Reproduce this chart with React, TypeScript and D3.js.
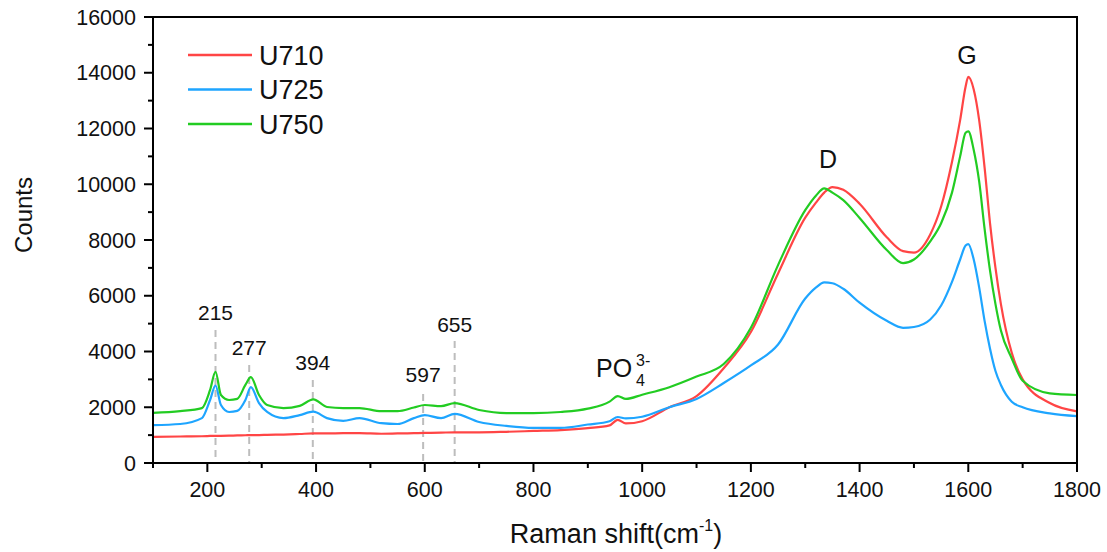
import React from "react";
import * as d3 from "d3";

const shift = [100,150,190,205,215,225,240,255,270,280,295,310,340,370,395,420,450,480,520,550,580,600,630,655,700,750,800,850,900,940,955,970,1000,1050,1100,1150,1200,1250,1300,1320,1335,1350,1370,1400,1450,1480,1500,1530,1550,1570,1585,1595,1600,1610,1620,1630,1640,1650,1660,1680,1700,1750,1800];

const u710 = [940,950,960,970,975,975,980,990,995,1000,1000,1010,1020,1040,1060,1060,1070,1070,1050,1060,1070,1080,1090,1100,1100,1120,1150,1180,1250,1350,1550,1420,1500,2000,2400,3400,4700,6800,8800,9350,9700,9900,9800,9300,8100,7600,7550,8200,9200,10800,12300,13500,13850,13400,12300,10600,8600,7000,5700,3950,3000,2150,1850];

const u725 = [1360,1400,1610,2260,2780,2080,1830,1870,2260,2720,2150,1830,1610,1720,1840,1610,1510,1610,1430,1400,1610,1720,1610,1760,1470,1330,1260,1260,1380,1500,1650,1600,1660,2000,2300,2870,3500,4250,5900,6300,6480,6450,6250,5750,5100,4850,4880,5150,5650,6500,7300,7800,7850,7300,6300,5100,4100,3300,2800,2200,2000,1780,1680];

const u750 = [1800,1860,1970,2620,3270,2440,2260,2300,2800,3080,2440,2080,1970,2050,2280,2010,1970,1970,1860,1860,1990,2080,2040,2150,1900,1790,1790,1830,1950,2200,2400,2300,2450,2720,3100,3550,4850,7100,9070,9600,9850,9700,9430,8790,7640,7170,7300,7950,8600,9700,11000,11850,11900,11230,10100,8400,6900,5700,4750,3750,2950,2500,2440];

const series = [
  { name: "U710", values: u710, color: "#ff4545" },
  { name: "U725", values: u725, color: "#1ea5ff" },
  { name: "U750", values: u750, color: "#22cc22" },
];

const xMajor = [200,400,600,800,1000,1200,1400,1600,1800];
const xMinor = [100,300,500,700,900,1100,1300,1500,1700];
const yMajor = [0,2000,4000,6000,8000,10000,12000,14000,16000];
const yMinor = [1000,3000,5000,7000,9000,11000,13000,15000];

const peakMarks = [
  { label: "215", x: 215, labelY: 320, top: 330 },
  { label: "277", x: 277, labelY: 355, top: 365 },
  { label: "394", x: 394, labelY: 370, top: 380 },
  { label: "597", x: 597, labelY: 382, top: 394 },
  { label: "655", x: 655, labelY: 332, top: 341 },
];

const FONT = "Arial, 'Liberation Sans', sans-serif";

export default function App() {
  const left = 153, right = 1077, top = 17, bottom = 463;
  const x = d3.scaleLinear().domain([100, 1800]).range([left, right]);
  const y = d3.scaleLinear().domain([0, 16000]).range([bottom, top]);
  const line = (vals: number[]) =>
    d3.line<number>().x((_, i) => x(shift[i])).y((v) => y(v)).curve(d3.curveMonotoneX)(vals) || "";

  return (
    <svg width={1107} height={552} style={{ position: "absolute", left: 0, top: 0, background: "#fff" }} fontFamily={FONT}>
      <rect x={0} y={0} width={1107} height={552} fill="#fff" />
      {peakMarks.map((p) => (
        <line key={"d" + p.label} x1={x(p.x)} x2={x(p.x)} y1={p.top} y2={bottom} stroke="#bdbdbd" strokeWidth={2} strokeDasharray="7,5" />
      ))}
      {peakMarks.map((p) => (
        <text key={"t" + p.label} x={x(p.x)} y={p.labelY} fontSize={21} textAnchor="middle" fill="#111">{p.label}</text>
      ))}
      {series.map((s) => (
        <path key={s.name} d={line(s.values)} fill="none" stroke={s.color} strokeWidth={2.2} strokeLinejoin="round" />
      ))}
      <rect x={left} y={top} width={right - left} height={bottom - top} fill="none" stroke="#000" strokeWidth={2} />
      {xMajor.map((t) => (
        <g key={"xm" + t}>
          <line x1={x(t)} x2={x(t)} y1={bottom} y2={bottom + 9} stroke="#000" strokeWidth={2} />
          <text x={x(t)} y={497} fontSize={21.5} textAnchor="middle" fill="#111">{t}</text>
        </g>
      ))}
      {xMinor.map((t) => (
        <line key={"xn" + t} x1={x(t)} x2={x(t)} y1={bottom} y2={bottom + 5} stroke="#000" strokeWidth={2} />
      ))}
      {yMajor.map((t) => (
        <g key={"ym" + t}>
          <line x1={left - 9} x2={left} y1={y(t)} y2={y(t)} stroke="#000" strokeWidth={2} />
          <text x={136} y={y(t)} dy="0.36em" fontSize={21.5} textAnchor="end" fill="#111">{t}</text>
        </g>
      ))}
      {yMinor.map((t) => (
        <line key={"yn" + t} x1={left - 5} x2={left} y1={y(t)} y2={y(t)} stroke="#000" strokeWidth={2} />
      ))}
      <text x={616} y={543} fontSize={27} textAnchor="middle" fill="#111">
        Raman shift(cm<tspan fontSize={16} dy={-12}>-1</tspan><tspan dy={12}>)</tspan>
      </text>
      <text transform="translate(32,215) rotate(-90)" fontSize={24} textAnchor="middle" fill="#111">Counts</text>
      {series.map((s, i) => (
        <g key={"lg" + s.name}>
          <line x1={188} x2={252} y1={55 + i * 34.5} y2={55 + i * 34.5} stroke={s.color} strokeWidth={2.5} />
          <text x={259} y={55 + i * 34.5} dy="0.36em" fontSize={27} fill="#111">{s.name}</text>
        </g>
      ))}
      <text x={828} y={168} fontSize={25} textAnchor="middle" fill="#111">D</text>
      <text x={967} y={64} fontSize={25} textAnchor="middle" fill="#111">G</text>
      <text x={596} y={377} fontSize={25} fill="#111">PO</text>
      <text x={636} y={366} fontSize={16} fill="#111">3-</text>
      <text x={636} y={386} fontSize={16} fill="#111">4</text>
    </svg>
  );
}
